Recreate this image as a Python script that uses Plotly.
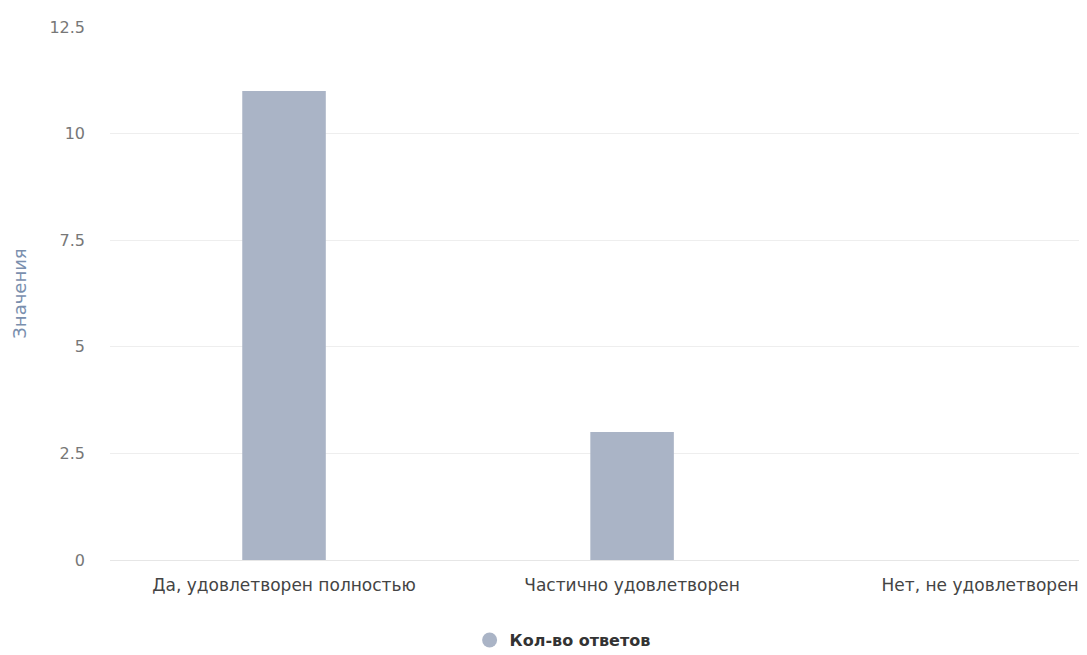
import plotly.graph_objects as go

categories = ["Да, удовлетворен полностью", "Частично удовлетворен", "Нет, не удовлетворен"]
values = [11, 3, 0]
series_name = "Кол-во ответов"
y_ticks = [0, 2.5, 5, 7.5, 10, 12.5]
y_tick_labels = ["0", "2.5", "5", "7.5", "10", "12.5"]

bar_color = "#aab4c6"

fig = go.Figure()
fig.add_trace(go.Bar(
    x=categories, y=values, marker=dict(color=bar_color, line=dict(width=0)),
    name=series_name, showlegend=False,
))
fig.add_trace(go.Scatter(
    x=[None], y=[None], mode="markers", name=series_name,
    marker=dict(symbol="circle", size=15, color=bar_color),
))

fig.update_layout(
    width=1079, height=647,
    margin=dict(l=102, r=0, t=19, b=95),
    paper_bgcolor="white", plot_bgcolor="white",
    bargap=0.76,
    font=dict(family="DejaVu Sans", color="#555555"),
    showlegend=True,
    legend=dict(
        orientation="h", xref="container", yref="container",
        x=0.514, xanchor="center", y=0.023, yanchor="middle",
        font=dict(size=16, color="#333333", family="DejaVu Sans", weight="bold"),
        itemwidth=30,
    ),
    xaxis=dict(
        type="category", range=[-0.5, 2.307],
        showgrid=False, showline=True, linecolor="#e6e6e6", linewidth=1,
        ticks="", tickfont=dict(size=17, color="#444444"),
        ticklabelstandoff=10,
        zeroline=False,
    ),
    yaxis=dict(
        range=[0, 12.5], tickvals=y_ticks, ticktext=y_tick_labels,
        showgrid=True, gridcolor="#eeeeee", gridwidth=1,
        zeroline=False, showline=False,
        tickfont=dict(size=16, color="#777777"),
        ticklabelstandoff=24,
        title=dict(text="Значения", font=dict(size=18, color="#7a8fae"), standoff=18),
    ),
)

fig.write_html("out.html")
